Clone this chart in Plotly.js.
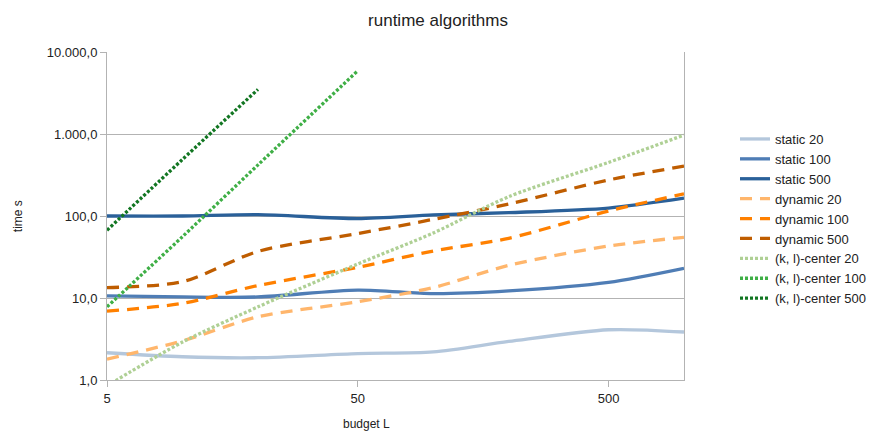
<!DOCTYPE html>
<html>
<head>
<meta charset="utf-8">
<script src="https://cdn.plot.ly/plotly-3.0.1.min.js"></script>
<style>html,body{margin:0;padding:0;background:#fff;}#chart{width:876px;height:435px;}</style>
</head>
<body>
<div id="chart"></div>
<script>
const budget = [5, 10, 20, 50, 100, 200, 500, 1000];
const static20 = [2.15, 1.92, 1.87, 2.1, 2.2, 2.95, 4.1, 3.85];
const static100 = [10.6, 10.3, 10.3, 12.5, 11.3, 12.2, 15.5, 23];
const static500 = [100, 100, 104, 93, 103, 110, 125, 165];
const dynamic20 = [1.8, 3.0, 5.9, 9.0, 13.4, 25, 43, 55];
const dynamic100 = [6.9, 8.6, 14.2, 23.7, 37.4, 53.5, 115, 186];
const dynamic500 = [13.4, 15.8, 37, 61, 91, 140, 275, 405];
const klcenter20 = [0.85, 2.9, 7.8, 26, 62, 172, 450, 970];
const budgetKl100 = [5, 10, 20, 50];
const klcenter100 = [7.8, 56, 420, 5900];
const budgetKl500 = [5, 10, 20];
const klcenter500 = [67, 490, 3500];
const yTickVals = [1, 10, 100, 1000, 10000];
const xTickVals = [5, 50, 500];
const xTickText = ["5", "50", "500"];

const solid = 'solid', dashed = '12px,8px', dotted = '3px,2px';
function tr(name, x, y, color, dash) {
  return {x: x, y: y, name: name, legendgroup: name, type: 'scatter', mode: 'lines',
    line: {color: color, width: 3.3, dash: dash, shape: 'spline', smoothing: 0.8},
    hoverinfo: 'skip'};
}
const data = [
  tr('static 20', budget, static20, '#b4c7dc', solid),
  tr('static 100', budget, static100, '#4f7db5', solid),
  tr('static 500', budget, static500, '#2a6099', solid),
  tr('dynamic 20', budget, dynamic20, '#ffb66c', dashed),
  tr('dynamic 100', budget, dynamic100, '#ff8000', dashed),
  tr('dynamic 500', budget, dynamic500, '#bf5d00', dashed),
  tr('(k, l)-center 20', budget, klcenter20, '#afd095', dotted),
  tr('(k, l)-center 100', budgetKl100, klcenter100, '#3faf46', dotted),
  tr('(k, l)-center 500', budgetKl500, klcenter500, '#127622', dotted)
];
const fontFam = '"Liberation Sans", Arial, sans-serif';
const layout = {
  width: 876, height: 435,
  margin: {l: 107, r: 192, t: 52, b: 55},
  separators: ',.',
  paper_bgcolor: '#fff', plot_bgcolor: '#fff',
  font: {family: fontFam, size: 13, color: '#222'},
  title: {text: 'runtime algorithms', x: 0.5, xref: 'container', y: 0.955, yanchor: 'middle', font: {family: fontFam, size: 17, color: '#222'}},
  xaxis: {type: 'log', range: [Math.log10(5), Math.log10(1000)], tickvals: xTickVals, ticktext: xTickText,
    showgrid: false, zeroline: false, showline: true, linecolor: '#b3b3b3', linewidth: 1, mirror: false,
    ticks: 'outside', ticklen: 6, tickcolor: '#b3b3b3', tickfont: {size: 13, color: '#222'}},
  yaxis: {type: 'log', range: [0, 4], tickvals: yTickVals, tickformat: ',.1f',
    showgrid: true, gridcolor: '#b3b3b3', gridwidth: 1, zeroline: false, showline: true, linecolor: '#b3b3b3', linewidth: 1, mirror: true,
    ticks: 'outside', ticklen: 6, tickcolor: '#b3b3b3', tickfont: {size: 13, color: '#222'}},
  legend: {xref: 'container', yref: 'container', x: 735 / 876, xanchor: 'left', y: 1 - 124 / 435, yanchor: 'top',
    font: {size: 13, color: '#222'}, bgcolor: 'rgba(0,0,0,0)', tracegroupgap: 0},
  showlegend: true,
  annotations: [
    {text: 'budget L', xref: 'paper', yref: 'paper', x: 0.449, y: -0.135, xanchor: 'center', yanchor: 'middle', showarrow: false, font: {size: 12, color: '#222'}},
    {text: 'time s', xref: 'paper', yref: 'paper', x: -0.154, y: 0.5, xanchor: 'center', yanchor: 'middle', textangle: -90, showarrow: false, font: {size: 12, color: '#222'}}
  ]
};
Plotly.newPlot('chart', data, layout, {staticPlot: true, displayModeBar: false});
</script>
</body>
</html>
